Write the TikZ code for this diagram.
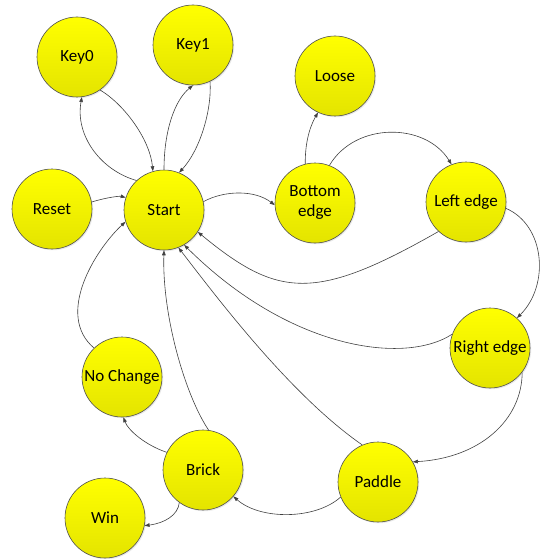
\documentclass[tikz,border=0pt]{standalone}
\usepackage{fontspec}
\setmainfont{Carlito}
\usetikzlibrary{arrows.meta,shadows}
\definecolor{edgecol}{HTML}{404040}
\definecolor{ringcol}{HTML}{505050}
\definecolor{ytop}{HTML}{FFFF00}
\definecolor{ybot}{HTML}{E4E400}
\tikzset{
  state/.style={circle, draw=ringcol, line width=0.6pt, minimum size=80pt, inner sep=0pt,
    top color=ytop, bottom color=ybot, align=center,
    font=\fontsize{17}{20}\selectfont,
    drop shadow={opacity=0.18, shadow xshift=1.2pt, shadow yshift=-1.2pt}},
  conn/.style={draw=edgecol, line width=0.6pt, -{Triangle[length=5pt,width=3.6pt]}}
}
\begin{document}
\begin{tikzpicture}[x=1pt,y=-1pt]
\useasboundingbox (0,0) rectangle (543,559);
\node[state] (key0)   at (77,57)    {Key0};
\node[state] (key1)   at (193,45)   {Key1};
\node[state] (loose)  at (335,76)   {Loose};
\node[state] (reset)  at (52,209)   {Reset};
\node[state] (start)  at (164,210)  {Start};
\node[state] (bottom) at (315,203)  {Bottom\\edge};
\node[state] (left)   at (466,202)  {Left edge};
\node[state] (right)  at (490,348)  {Right edge};
\node[state] (nochg)  at (122,377)  {No Change};
\node[state] (brick)  at (203,470)  {Brick};
\node[state] (paddle) at (378,482)  {Paddle};
\node[state] (win)    at (105,518)  {Win};

\draw[conn] (start.133) .. controls (100,170) and (75,135) .. (key0.277);
\draw[conn] (key0.-55) .. controls (125,105) and (150,140) .. (start.106);
\draw[conn] (start.90) .. controls (164,130) and (175,100) .. (key1.270);
\draw[conn] (key1.-65) .. controls (212,110) and (200,150) .. (start.68);
\draw[conn] (reset.10) .. controls (108,197) and (120,196) .. (start.162);
\draw[conn] (start.12) .. controls (225,190) and (255,190) .. (bottom.183);
\draw[conn] (bottom.104) .. controls (305,145) and (309,128) .. (loose.245);
\draw[conn] (bottom.69) .. controls (355,122) and (425,122) .. (left.111);
\draw[conn] (left.227) .. controls (315,302) and (278,298) .. (start.-33);
\draw[conn] (left.-9) .. controls (545,225) and (550,285) .. (right.48);
\draw[conn] (right.160) .. controls (405,365) and (290,350) .. (start.-60);
\draw[conn] (right.-37) .. controls (522,420) and (480,458) .. (paddle.30);
\draw[conn] (paddle.113) .. controls (290,395) and (215,295) .. (start.-69);
\draw[conn] (paddle.202) .. controls (315,520) and (260,520) .. (brick.-41);
\draw[conn] (brick.82) .. controls (185,395) and (162,315) .. (start.270);
\draw[conn] (brick.154) .. controls (145,445) and (128,430) .. (nochg.-88);
\draw[conn] (brick.234) .. controls (178,515) and (165,523) .. (win.-11);
\draw[conn] (nochg.134) .. controls (55,315) and (95,250) .. (start.197);
\end{tikzpicture}
\end{document}
